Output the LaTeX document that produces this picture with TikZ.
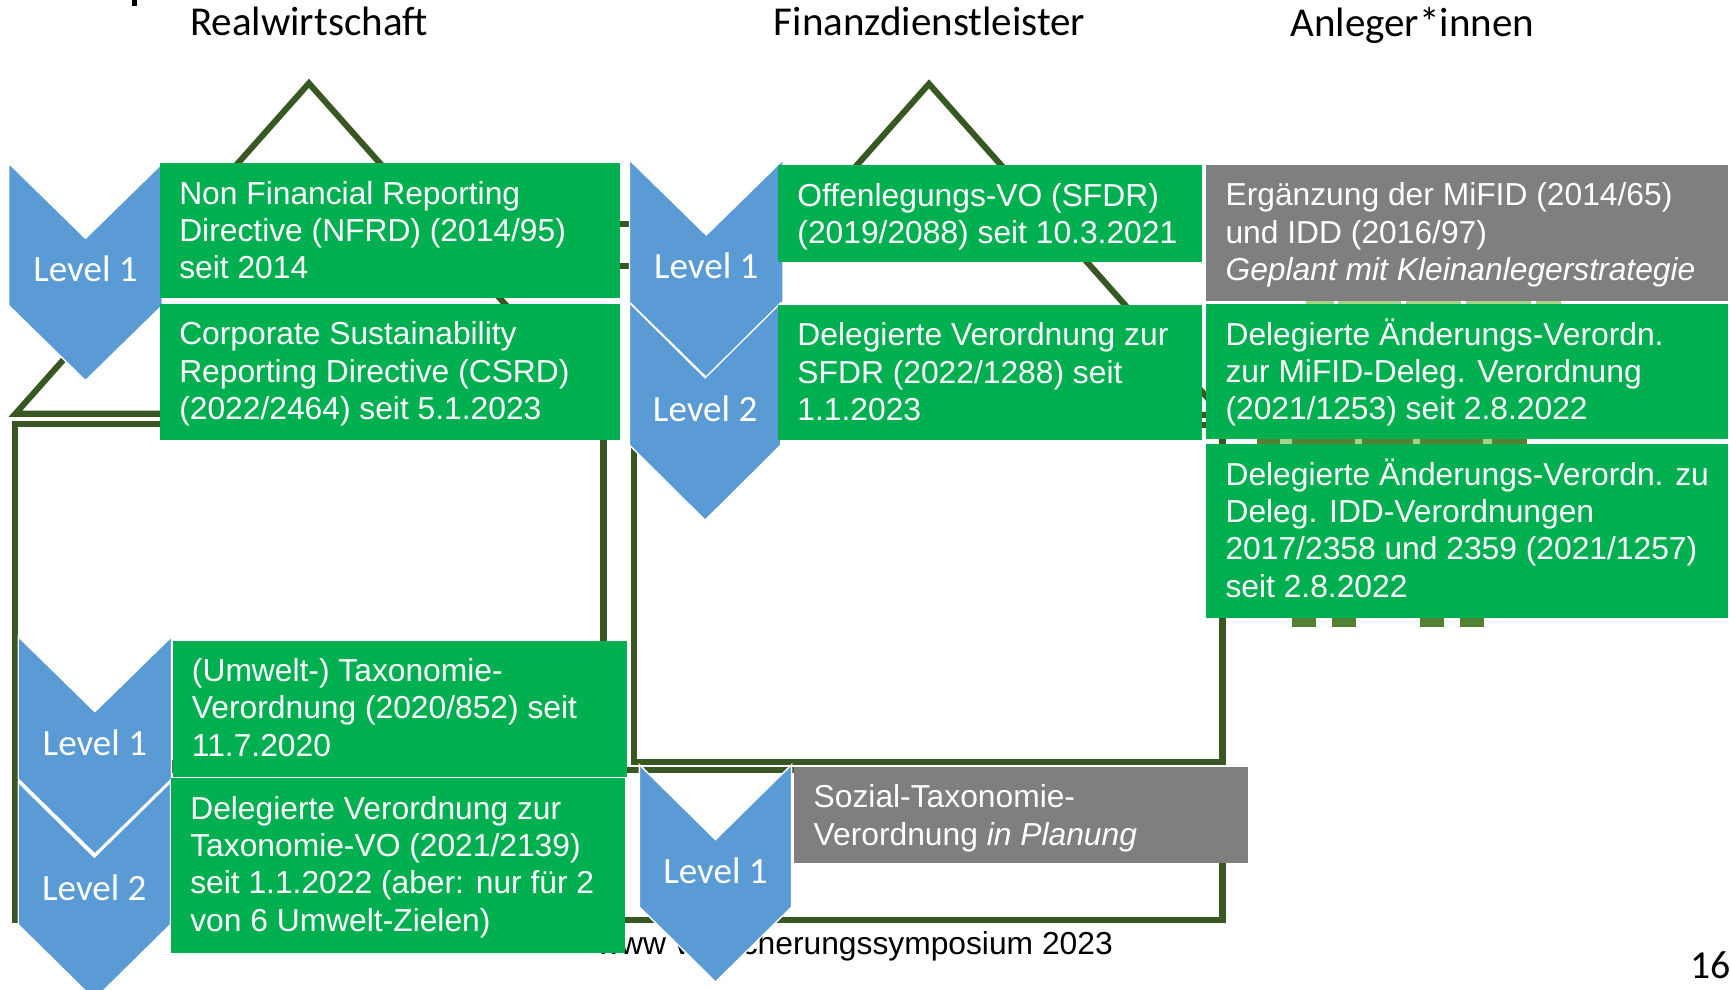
\documentclass[tikz,border=0pt]{standalone}
\usepackage{fontspec}
\setmainfont{Liberation Sans}
\newfontfamily\calib{Carlito}
\usetikzlibrary{calc,fit}
\definecolor{hgreen}{HTML}{385723}
\definecolor{bgreen}{HTML}{00B050}
\definecolor{bgray}{HTML}{7F7F7F}
\definecolor{chblue}{HTML}{5B9BD5}
\definecolor{lgreen}{HTML}{A9D18E}
\definecolor{olivec}{HTML}{548235}
\newcommand\mybox[7]{%
  \node[boxstyle,fill=#2,fit={(#3,#4) (#5,#6)}] (#1) {};
  \foreach \t [count=\i] in {#7} {\node[txt,anchor=base west] (#1-\i) at ($(#1.north west)+(17.5,{37.5+(\i-1)*33.8})$) {\t};}%
}
\newcommand\mychev[5]{%
  \filldraw[chevstyle] (#2,#3) -- ++({#4/2},68) -- ++({#4/2},-68) -- ++(0,129) -- ++({-#4/2},68) -- ++({-#4/2},-68) -- cycle;
  \node[lvl,anchor=base] (#1) at ({#2+#4/2},{#3+107.5}) {#5};%
}
\begin{document}
\begin{tikzpicture}[x=0.5pt,y=-0.5pt,
  house/.style={draw=hgreen,line width=2.75pt},
  boxstyle/.style={inner sep=0pt,draw=none},
  txt/.style={font=\fontsize{14.4}{16.9}\selectfont,text=white,inner sep=0pt},
  lvl/.style={font=\calib\fontsize{16.8}{20}\selectfont,text=white,inner sep=0pt},
  hdr/.style={font=\calib\fontsize{18.6}{22}\selectfont,text=black,inner sep=0pt},
  chevstyle/.style={fill=chblue,draw=white,line width=0.6pt,line join=miter}]
\useasboundingbox (0,0) rectangle (1568,897);
\fill[white] (0,0) rectangle (1568,897);

% title remnant and headers
\fill[black] (120,0) rectangle (124.5,5.5);
\node[hdr,anchor=base] (h1) at (280,32.5) {Realwirtschaft};
\node[hdr,anchor=base] (h2) at (842.5,32.5) {Finanzdienstleister};
\node[hdr,anchor=base] (h3) at (1280,33) {Anleger*innen};

% houses
\draw[house] (14,375) -- (280,75.5) -- (546,375) -- cycle;
\draw[house] (13.4,384) rectangle (547,692);
\draw[house] (576,376) -- (842,76) -- (1108,376) -- cycle;
\draw[house] (575,385) rectangle (1108,691);
\draw[house] (13.4,698) rectangle (1108,834);
\draw[house] (540,203) rectangle (600,241);

% people icon (hidden behind boxes)
\fill[lgreen] (1184,265) rectangle (1209,285);
\fill[lgreen] (1213,265) rectangle (1270,285);
\fill[lgreen] (1274,265) rectangle (1324,285);
\fill[lgreen] (1329,265) rectangle (1388,285);
\fill[lgreen] (1392,265) rectangle (1415,285);
\fill[olivec] (1139,392) rectangle (1384,408);
\fill[lgreen] (1160,392) rectangle (1171,408);
\fill[lgreen] (1228,392) rectangle (1234,408);
\fill[lgreen] (1281,392) rectangle (1287,408);
\fill[lgreen] (1344,392) rectangle (1352,408);
\fill[olivec] (1170.6,540) rectangle (1193,568);
\fill[olivec] (1207,540) rectangle (1229,568);
\fill[olivec] (1287,540) rectangle (1309,568);
\fill[olivec] (1323,540) rectangle (1345,568);

% footer and page number
\node[anchor=base west,inner sep=0pt,font=\fontsize{14.4}{17}\selectfont] (foot) at (540.8,865) {www versicherungssymposium 2023};
\node[anchor=base east,inner sep=0pt,font=\calib\fontsize{18}{20}\selectfont] (pnum) at (1569,887) {16};

% chevrons
\mychev{lvA}{8}{148}{139}{Level 1}
\mychev{lvB}{570.6}{145}{139}{Level 1}
\mychev{lvC}{570.6}{274.5}{137}{Level 2}
\mychev{lvD}{16.5}{577}{139}{Level 1}
\mychev{lvE}{16.5}{709}{138}{Level 2}
\mychev{lvF}{579.5}{693}{138}{Level 1}

% boxes
\mybox{bA}{bgreen}{145}{148}{562}{270.4}{Non Financial Reporting,Directive (NFRD) (2014/95),seit 2014}
\mybox{bB}{bgreen}{145}{275.5}{562}{398.8}{Corporate Sustainability,Reporting Directive (CSRD),(2022/2464) seit 5.1.2023}
\mybox{bC}{bgreen}{705.3}{150}{1089.5}{237.5}{Offenlegungs-VO (SFDR),(2019/2088) seit 10.3.2021}
\mybox{bD}{bgreen}{705.3}{276.5}{1089.5}{398.8}{Delegierte Verordnung zur,SFDR (2022/1288) seit,1.1.2023}
\mybox{bE}{bgray}{1093.3}{149.6}{1566}{272.5}{Ergänzung der MiFID (2014/65),und IDD (2016/97),{\itshape Geplant mit Kleinanlegerstrategie}}
\mybox{bF}{bgreen}{1093.3}{275.6}{1566}{398}{Delegierte Änderungs-Verordn.,zur MiFID-Deleg. Verordnung,(2021/1253) seit 2.8.2022}
\mybox{bG}{bgreen}{1093.3}{402.6}{1566}{560.5}{Delegierte Änderungs-Verordn. zu,Deleg. IDD-Verordnungen,2017/2358 und 2359 (2021/1257),seit 2.8.2022}
\mybox{bH}{bgreen}{156.5}{580.7}{568.5}{704}{(Umwelt-) Taxonomie-,Verordnung (2020/852) seit,11.7.2020}
\mybox{bI}{bgreen}{155}{705.5}{566.5}{863.5}{Delegierte Verordnung zur,Taxonomie-VO (2021/2139),seit 1.1.2022 (aber: nur für 2,von 6 Umwelt-Zielen)}
\mybox{bJ}{bgray}{720}{695}{1131}{782}{Sozial-Taxonomie-,Verordnung \textit{in Planung}}
\end{tikzpicture}
\end{document}
